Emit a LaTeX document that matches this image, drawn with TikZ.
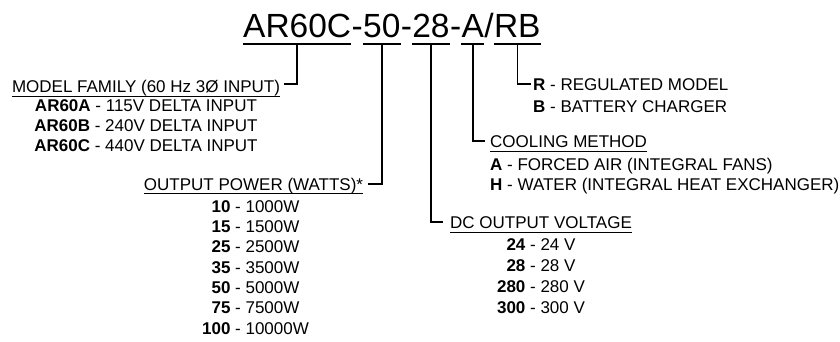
\documentclass[tikz,border=0pt]{standalone}
\usepackage{fontspec}
\setmainfont{Liberation Sans}
\begin{document}
\begin{tikzpicture}[x=1pt,y=1pt,
  lbl/.style={font=\fontsize{17}{20}\selectfont, inner sep=0pt, anchor=base},
  lblw/.style={lbl, anchor=base west},
  ttl/.style={font=\fontsize{33.5}{40}\selectfont, inner sep=0pt, anchor=base west},
  conn/.style={line width=1.5pt, line join=miter},
  tul/.style={line width=1.6pt},
  hul/.style={line width=1pt}]
\useasboundingbox (0,0) rectangle (840,-341);
% title
\node[ttl] (t1) at (243,-37.3) {AR60C};
\node[ttl] (t2) at (t1.base east) {-};
\node[ttl] (t3) at (t2.base east) {50};
\node[ttl] (t4) at (t3.base east) {-};
\node[ttl] (t5) at (t4.base east) {28};
\node[ttl] (t6) at (t5.base east) {-};
\node[ttl] (t7) at (t6.base east) {A};
\node[ttl] (t8) at (t7.base east) {/};
\node[ttl] (t9) at (t8.base east) {RB};
\foreach \t in {t1,t3,t5,t7,t9}
  \draw[tul] ([yshift=-6.7pt]\t.base west) -- ([yshift=-6.7pt]\t.base east);
% model family
\node[lbl] (mf) at (146,-92.7) {MODEL FAMILY (60 Hz 3Ø INPUT)};
\draw[hul] ([yshift=-4pt]mf.base west) -- ([yshift=-4pt]mf.base east);
\node[lbl] (mfa) at (146,-111) {\textbf{AR60A} - 115V DELTA INPUT};
\node[lbl] (mfb) at (146,-131) {\textbf{AR60B} - 240V DELTA INPUT};
\node[lbl] (mfc) at (146,-151) {\textbf{AR60C} - 440V DELTA INPUT};
\draw[conn] ([yshift=-6.7pt]t1.base) |- ([xshift=4pt,yshift=8.5pt]mf.base east);
% output power
\node[lbl] (op) at (253.5,-190) {OUTPUT POWER (WATTS)*};
\draw[hul] ([yshift=-3.5pt]op.base west) -- ([yshift=-3.5pt]op.base east);
\node[lbl] (op1) at (255.5,-212) {\textbf{10} - 1000W};
\node[lbl] (op2) at (255.5,-232.3) {\textbf{15} - 1500W};
\node[lbl] (op3) at (255.5,-252.6) {\textbf{25} - 2500W};
\node[lbl] (op4) at (255.5,-273) {\textbf{35} - 3500W};
\node[lbl] (op5) at (255.5,-293.2) {\textbf{50} - 5000W};
\node[lbl] (op6) at (255.5,-313.5) {\textbf{75} - 7500W};
\node[lbl] (op7) at (255.5,-334) {\textbf{100} - 10000W};
\draw[conn] ([yshift=-6.7pt]t3.base) |- ([xshift=5pt,yshift=6pt]op.base east);
% DC output voltage
\node[lblw] (dc) at (450,-228) {DC OUTPUT VOLTAGE};
\draw[hul] ([yshift=-4pt]dc.base west) -- ([yshift=-4pt]dc.base east);
\node[lbl] (dc1) at (541,-250) {\textbf{24} - 24 V};
\node[lbl] (dc2) at (541,-271) {\textbf{28} - 28 V};
\node[lbl] (dc3) at (541,-292.5) {\textbf{280} - 280 V};
\node[lbl] (dc4) at (541,-313) {\textbf{300} - 300 V};
\draw[conn] ([yshift=-6.7pt]t5.base) |- ([xshift=-7pt,yshift=6pt]dc.base west);
% cooling method
\node[lblw] (cm) at (490,-147) {COOLING METHOD};
\draw[hul] ([yshift=-4.5pt]cm.base west) -- ([yshift=-4.5pt]cm.base east);
\node[lblw] (cma) at (490,-170) {\textbf{A} - FORCED AIR (INTEGRAL FANS)};
\node[lblw] (cmh) at (490,-190.5) {\textbf{H} - WATER (INTEGRAL HEAT EXCHANGER)};
\draw[conn] ([yshift=-6.7pt]t7.base) |- ([xshift=-5pt,yshift=6pt]cm.base west);
% model type
\node[lblw] (rr) at (533,-90.7) {\textbf{R} - REGULATED MODEL};
\node[lblw] (rb) at (533,-112.7) {\textbf{B} - BATTERY CHARGER};
\draw[conn] ([yshift=-6.7pt]t9.base) |- ([xshift=-2pt,yshift=6.5pt]rr.base west);
\end{tikzpicture}
\end{document}
